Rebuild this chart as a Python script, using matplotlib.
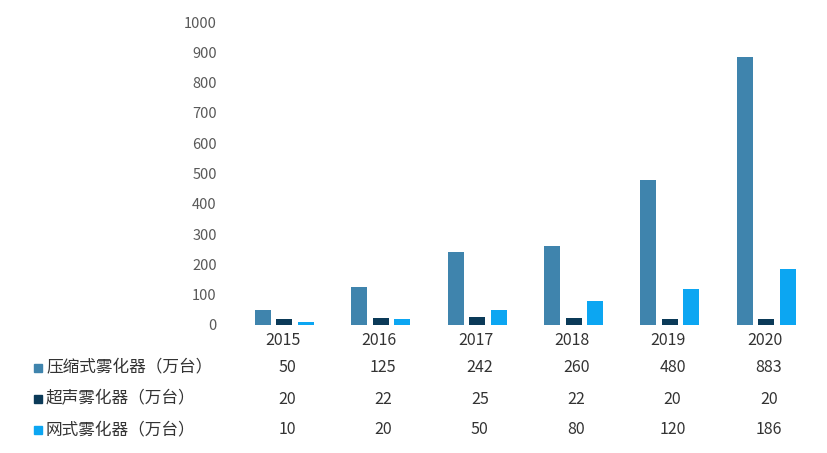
import numpy as np
import matplotlib
matplotlib.use("Agg")
import matplotlib.pyplot as plt
from matplotlib.patches import Rectangle

plt.rcParams['font.family'] = ['Noto Sans CJK SC', 'DejaVu Sans']

years = ["2015", "2016", "2017", "2018", "2019", "2020"]
series_names = ["压缩式雾化器（万台）", "超声雾化器（万台）", "网式雾化器（万台）"]
compress = [50, 125, 242, 260, 480, 883]
ultrasonic = [20, 22, 25, 22, 20, 20]
mesh = [10, 20, 50, 80, 120, 186]
colors = ["#3f84ad", "#0b3a58", "#0ca6f2"]

fig = plt.figure(figsize=(8.27, 4.53), dpi=100)
ax = fig.add_axes([0.284, 0.2826, 0.699, 0.6688])

x = np.arange(len(years))
width = 0.166
step = 0.223
for i, vals in enumerate([compress, ultrasonic, mesh]):
    ax.bar(x + (i - 1) * step + 0.015, vals, width, color=colors[i])

ax.set_xlim(-0.5, len(years) - 0.5)
ax.set_ylim(0, 1000)
ax.set_yticks(range(0, 1001, 100))
ax.tick_params(axis="y", length=0, pad=13, labelsize=10.5, labelcolor="#595959")
ax.set_xticks(x)
ax.set_xticklabels(years)
ax.tick_params(axis="x", length=0, pad=5, labelsize=11.5, labelcolor="#333333")
for s in ax.spines.values():
    s.set_visible(False)

# data table below the chart
row_y = [368, 399, 430]
H = 453.0
W = 827.0
for r, (name, vals) in enumerate(zip(series_names, [compress, ultrasonic, mesh])):
    yc = 1 - row_y[r] / H
    fig.patches.append(Rectangle((34 / W, yc - 4 / H), 8 / W, 8 / H,
                                 transform=fig.transFigure, color=colors[r]))
    fig.text(46 / W, yc, name, ha="left", va="center", fontsize=12, color="#333333")
    for j, v in enumerate(vals):
        xc = (283 + j * 96.4 + 4) / W
        fig.text(xc, yc, str(v), ha="center", va="center", fontsize=11.5, color="#333333")

fig.savefig("out.png", dpi=100)
